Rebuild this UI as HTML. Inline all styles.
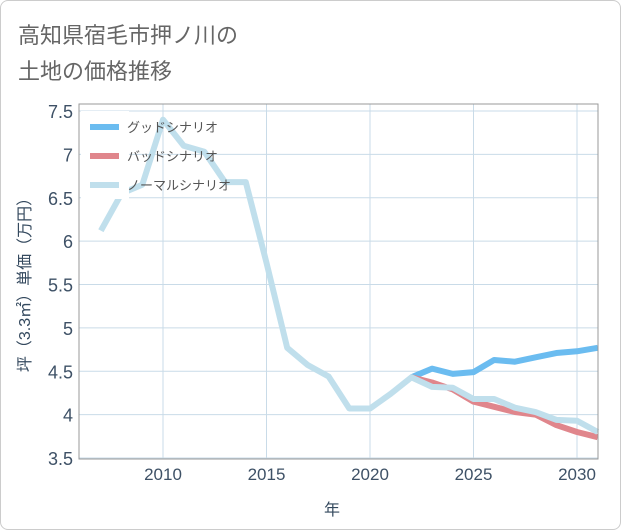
<!DOCTYPE html>
<html><head><meta charset="utf-8"><style>
html,body{margin:0;padding:0;background:#fff;}
#wrap{position:relative;width:619px;height:528px;border:1px solid #ccc;border-radius:8px;overflow:hidden;}
text{font-family:"Liberation Sans","Noto Sans CJK JP",sans-serif;}
</style></head><body>
<div id="wrap">
<svg id="svg" width="621" height="530">
<text x="17" y="42" font-size="22" fill="#666">高知県宿毛市押ノ川の</text>
<text x="17" y="78" font-size="22" fill="#666">土地の価格推移</text>
<g id="grid"></g><g id="series"></g><g id="axes"></g>
<text x="331" y="514" font-size="16" fill="#34495e" text-anchor="middle">年</text>
<text transform="translate(29,280) rotate(-90)" font-size="16" fill="#34495e" text-anchor="middle">坪（3.3㎡）単価（万円）</text>
</svg></div>
<script>
const years=[2007,2008,2009,2010,2011,2012,2013,2014,2015,2016,2017,2018,2019,2020,2021,2022,2023,2024,2025,2026,2027,2028,2029,2030,2031];
const normalVals=[6.12,6.55,6.65,7.4,7.1,7.03,6.68,6.68,5.75,4.77,4.57,4.44,4.07,4.07,4.24,4.43,4.32,4.31,4.18,4.18,4.08,4.03,3.94,3.93,3.8];
const futureYears=[2022,2023,2024,2025,2026,2027,2028,2029,2030,2031];
const goodVals=[4.43,4.53,4.47,4.49,4.63,4.61,4.66,4.71,4.73,4.77];
const badVals=[4.43,4.37,4.29,4.15,4.09,4.03,4.0,3.88,3.8,3.74];
const yTicks=[3.5,4,4.5,5,5.5,6,6.5,7,7.5];
const yTickLabels=["3.5","4","4.5","5","5.5","6","6.5","7","7.5"];
const xTicks=[2010,2015,2020,2025,2030];
const xTickLabels=["2010","2015","2020","2025","2030"];
const L=78,R=597,T=103,B=458;
const xs=y=>162+(y-2010)*20.7;
const ys=v=>457-(v-3.5)*86.75;
const NS="http://www.w3.org/2000/svg";
function mk(t,a,p){const e=document.createElementNS(NS,t);for(const k in a)e.setAttribute(k,a[k]);p.appendChild(e);return e;}
const grid=document.getElementById('grid'),ser=document.getElementById('series'),ax=document.getElementById('axes');
yTicks.forEach((v,i)=>{
 const l=mk('line',{x1:L,x2:R,y1:ys(v),y2:ys(v),stroke:'#c9dbe8','stroke-width':1},grid);
 
 
 const t=mk('text',{x:L-6,y:ys(v)+7,'font-size':18,fill:'#3e5166','text-anchor':'end'},ax);
 t.textContent=yTickLabels[i];
 
 
});
xTicks.forEach((v,i)=>{
 const l=mk('line',{x1:xs(v),x2:xs(v),y1:T,y2:B,stroke:'#c9dbe8','stroke-width':1},grid);
 
 
 const t=mk('text',{x:xs(v),y:B+21,'font-size':17,fill:'#3e5166','text-anchor':'middle'},ax);
 t.textContent=xTickLabels[i];
 
 
});
const fr=mk('rect',{x:L,y:T,width:R-L,height:B-T,fill:'none',stroke:'#999','stroke-width':1},ax);


function line(xv,yv,color,name){
 const p=mk('polyline',{points:xv.map((x,i)=>xs(x)+','+ys(yv[i])).join(' '),fill:'none',stroke:color,'stroke-width':6,'stroke-linejoin':'round'},ser);
 
 
}
line(futureYears,goodVals,'#6bbcf0','good-scenario-line');
line(futureYears,badVals,'#e0868c','bad-scenario-line');
line(years,normalVals,'#c0dfec','normal-scenario-line');
const leg=[['グッドシナリオ','#6bbcf0'],['バッドシナリオ','#e0868c'],['ノーマルシナリオ','#c0dfec']];
const lg=mk('rect',{x:80,y:110,width:48,height:88,fill:'#fff'},ax);


leg.forEach((d,i)=>{
 const y=126+i*29;
 const s=mk('line',{x1:89,x2:118,y1:y,y2:y,stroke:d[1],'stroke-width':6},ax);
 
 
 const t=mk('text',{x:126,y:y+5,'font-size':13,fill:'#555'},ax);
 t.textContent=d[0];
 
 
});
</script>
</body></html>
